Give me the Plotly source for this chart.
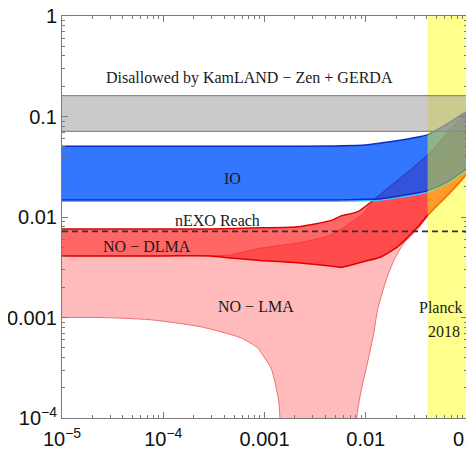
import plotly.graph_objects as go

# ---------------- data ----------------
# KamLAND-Zen + GERDA excluded band
kz_x = [1e-5, 0.1]
kz_lower = [0.071, 0.071]
kz_upper = [0.161, 0.161]

# nEXO reach
nexo_x = [1e-5, 0.1]
nexo_y = [0.0072, 0.0072]

# Planck 2018 bound on the lightest mass
planck_limit = 0.0408
planck_max = 0.1

# Inverted ordering band
io_x = [1e-5, 1e-4, 1e-3, 5e-3, 0.01, 0.0141, 0.022, 0.033, 0.041, 0.0644, 0.1]
io_upper = [0.0505, 0.0505, 0.0505, 0.051, 0.052, 0.0545, 0.058, 0.0625, 0.066, 0.085, 0.112]
io_lower = [0.0148, 0.0148, 0.0148, 0.0148, 0.0150, 0.0152, 0.0163, 0.0174, 0.0183, 0.0224, 0.0305]

# NO - DLMA band
dlma_up_x = [1e-5, 1e-4, 2.92e-4, 9.12e-4, 2.12e-3, 4.5e-3, 5.65e-3, 8.34e-3, 0.012, 0.0177, 0.0411, 0.1]
dlma_up_y = [0.0076, 0.0076, 0.0076, 0.0078, 0.0080, 0.0092, 0.0102, 0.0113, 0.0148, 0.0203, 0.0414, 0.111]
dlma_lo_x = [1e-5, 1e-4, 2.92e-4, 4.6e-4, 9.12e-4, 2.12e-3, 4.5e-3, 5.65e-3, 7.0e-3, 9.55e-3, 0.0141, 0.0208, 0.0327, 0.0411, 0.0644, 0.1]
dlma_lo_y = [0.0041, 0.0041, 0.0041, 0.0039, 0.0037, 0.0035, 0.00325, 0.00316, 0.0033, 0.0036, 0.0040, 0.0051, 0.0080, 0.0105, 0.0165, 0.027]

# NO - LMA band
lma_up_x = [1e-5, 2.92e-4, 4.6e-4, 9.12e-4, 2.12e-3, 4.5e-3, 9.55e-3, 0.012, 0.0411, 0.1]
lma_up_y = [0.0041, 0.0041, 0.0042, 0.0049, 0.0055, 0.0066, 0.0109, 0.0148, 0.0414, 0.111]
lma_lo_x = [1e-5, 2.38e-5, 7.44e-5, 2.32e-4, 5.79e-4, 8.53e-4, 9.8e-4, 1.15e-3, 1.23e-3, 1.38e-3, 1.42e-3, 1.46e-3,
            7.9e-3, 8.15e-3, 8.92e-3, 1.05e-2, 1.2e-2, 1.31e-2, 1.6e-2, 1.9e-2, 2.38e-2, 3.27e-2, 4.11e-2, 0.1]
lma_lo_y = [0.00100, 0.00100, 0.00095, 0.00081, 0.00063, 0.00050, 0.00041, 0.00032, 0.00026, 0.000148, 0.0001, 1e-6,
            1e-6, 0.0001, 0.000178, 0.00037, 0.0007, 0.0012, 0.0024, 0.0037, 0.0055, 0.0076, 0.0102, 0.027]

x_tickvals = [1e-5, 1e-4, 1e-3, 1e-2, 1e-1]
x_ticktext = ["10<sup>\u22125</sup>", "10<sup>\u22124</sup>", "0.001", "0.01", "0.1"]
y_tickvals = [1e-4, 1e-3, 1e-2, 1e-1, 1]
y_ticktext = ["10<sup>\u22124</sup>", "0.001", "0.01", "0.1", "1"]

# ---------------- figure ----------------
fig = go.Figure()
SM = 0.6


def band(xu, yu, xl, yl, fill, shape="spline"):
    fig.add_trace(go.Scatter(
        x=list(xu) + list(xl)[::-1], y=list(yu) + list(yl)[::-1],
        mode="lines", fill="toself", fillcolor=fill,
        line=dict(width=0, shape=shape, smoothing=SM),
        hoverinfo="skip", showlegend=False))


def edge(x, y, color, width, dash=None, shape="spline"):
    fig.add_trace(go.Scatter(x=x, y=y, mode="lines",
                             line=dict(color=color, width=width, dash=dash,
                                       shape=shape, smoothing=SM),
                             hoverinfo="skip", showlegend=False))


# NO - LMA (pink)
band(lma_up_x, lma_up_y, lma_lo_x, lma_lo_y, "rgba(255,120,120,0.5)")
edge(lma_up_x, lma_up_y, "#f58a8a", 1)
edge(lma_lo_x, lma_lo_y, "#ef7070", 1)

# NO - DLMA (red)
band(dlma_up_x, dlma_up_y, dlma_lo_x, dlma_lo_y, "rgba(255,0,0,0.6)")
edge(dlma_up_x, dlma_up_y, "#e00000", 1.5)
edge(dlma_lo_x, dlma_lo_y, "#e00000", 1.5)

# IO (blue)
band(io_x, io_upper, io_x, io_lower, "rgba(0,85,255,0.8)")
edge(io_x, [v * 0.97 for v in io_lower], "#33c8ff", 1.6)
edge(io_x, io_upper, "#0a2ad0", 1.5)
edge(io_x, io_lower, "#0a2ad0", 1.5)

# Planck 2018 (yellow)
fig.add_trace(go.Scatter(
    x=[planck_limit, planck_max, planck_max, planck_limit],
    y=[1e-4, 1e-4, 1, 1], mode="lines", fill="toself",
    fillcolor="rgba(255,255,0,0.45)", line=dict(width=0),
    hoverinfo="skip", showlegend=False))

# KamLAND-Zen + GERDA (gray)
band(kz_x, kz_upper, kz_x, kz_lower, "rgba(150,150,150,0.5)", shape="linear")
edge(kz_x, kz_upper, "#8a8a8a", 1.2, shape="linear")
edge(kz_x, kz_lower, "#8a8a8a", 1.2, shape="linear")

# nEXO reach
edge(nexo_x, nexo_y, "#333333", 1.6, dash="6px,4px", shape="linear")

# ---------------- labels ----------------
serif = "Liberation Serif, Times New Roman, serif"
labels = [
    ("Disallowed by KamLAND \u2212 Zen + GERDA", 0.462, 0.846),
    ("IO", 0.420, 0.597),
    ("nEXO Reach", 0.385, 0.4925),
    ("NO \u2212 DLMA", 0.210, 0.426),
    ("NO \u2212 LMA", 0.479, 0.277),
    ("Planck", 0.937, 0.274),
    ("2018", 0.944, 0.214),
]
for txt, px, py in labels:
    fig.add_annotation(text=txt, x=px, y=py, xref="paper", yref="paper",
                       showarrow=False, xanchor="center", yanchor="middle",
                       font=dict(family=serif, size=16, color="#1a1a1a"))

minor_x = [k * 10.0 ** d for d in range(-5, -1) for k in range(2, 10)]
minor_y = [k * 10.0 ** d for d in range(-4, 0) for k in range(2, 10)]

axis_common = dict(
    type="log", showgrid=False, zeroline=False, automargin=False,
    showline=True, linecolor="#7a7a7a", linewidth=1, mirror="ticks",
    ticks="inside", ticklen=6, tickcolor="#7a7a7a", tickwidth=1,
    ticklabeloverflow="allow",
    tickfont=dict(family="Liberation Sans, Arial, sans-serif", size=20, color="#111"),
)

fig.update_xaxes(range=[-5, -1], tickmode="array", tickvals=x_tickvals, ticktext=x_ticktext,
                 ticklabelstandoff=3,
                 minor=dict(tickmode="array", tickvals=minor_x, ticks="inside", ticklen=3,
                            tickcolor="#7a7a7a", showgrid=False),
                 **axis_common)
fig.update_yaxes(range=[-4, 0], tickmode="array", tickvals=y_tickvals, ticktext=y_ticktext,
                 minor=dict(tickmode="array", tickvals=minor_y, ticks="inside", ticklen=3,
                            tickcolor="#7a7a7a", showgrid=False),
                 **axis_common)

# The page body adds an 8px offset, so the figure is sized to fill the window exactly.
fig.update_layout(
    width=466, height=446,
    margin=dict(l=54, r=7, t=8, b=36),
    paper_bgcolor="white", plot_bgcolor="white",
    showlegend=False,
)

fig.write_html("out.html")
